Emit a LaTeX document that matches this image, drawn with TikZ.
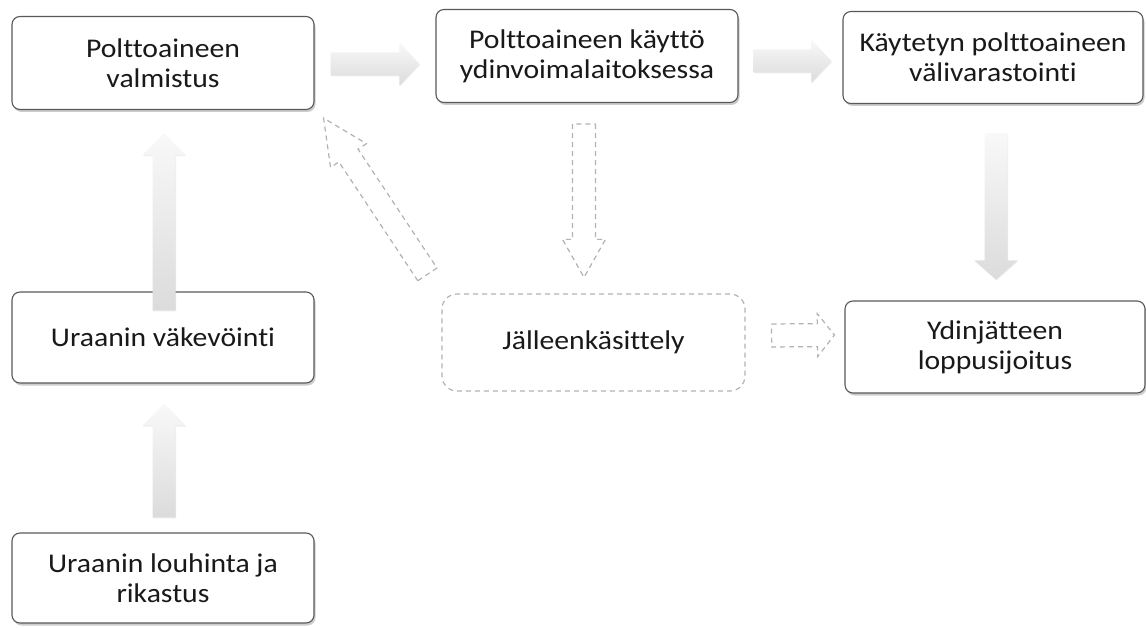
\documentclass[tikz,border=0pt]{standalone}
\usepackage{fontspec}
\setmainfont{Carlito}[FakeStretch=1.1, RawFeature={-liga;-clig;-calt;-dlig}]
\usetikzlibrary{calc}
\usetikzlibrary{shadows}

% block arrow: [style]{tail}{tip}{head length}
\newcommand{\blockarr}[4][]{%
  \path[#1] let \p1=(#2), \p2=(#3), \n1={atan2(\y2-\y1,\x2-\x1)}, \n2={veclen(\x2-\x1,\y2-\y1)} in
    [shift={(\p1)}, rotate=\n1] (0,11.5) -- (\n2-#4,11.5) -- (\n2-#4,21.5) -- (\n2,0)
    -- (\n2-#4,-21.5) -- (\n2-#4,-11.5) -- (0,-11.5) -- cycle;
}

\begin{document}
\begin{tikzpicture}[x=1pt, y=1pt,
    every node/.style={font=\fontsize{27}{30}\selectfont, text=black!90},
    box/.style={draw=gray!70!black, line width=1.1pt, rounded corners=8pt, fill=white, align=center,
        minimum width=302pt, minimum height=93pt, inner sep=0pt,
        drop shadow={shadow xshift=1.5pt, shadow yshift=-2.5pt, opacity=0.4}},
    dashbox/.style={draw=gray!60, line width=1.2pt, dash pattern=on 5pt off 4pt, rounded corners=15pt,
        align=center, minimum width=303pt, minimum height=97pt, inner sep=0pt},
    solidarr/.style={top color=gray!5, bottom color=gray!28,
        drop shadow={shadow xshift=0.5pt, shadow yshift=-1pt, opacity=0.15}},
    dasharr/.style={draw=gray!60, line width=1.2pt, dash pattern=on 5pt off 4pt, fill=white}]
    \useasboundingbox (0,0) rectangle (1146,-628);

    \node[box] (valm) at (163,-63) {Polttoaineen\\valmistus};
    \node[box] (kaytto) at (587,-56) {Polttoaineen käyttö\\ydinvoimalaitoksessa};
    \node[box, minimum width=300pt, minimum height=92pt] (vali) at (993,-57.5) {Käytetyn polttoaineen\\välivarastointi};
    \node[dashbox] (jalleen) at (593.5,-342.5) {Jälleenkäsittely};
    \node[box, minimum width=300pt, minimum height=92pt] (ydin) at (995,-347) {Ydinjätteen\\loppusijoitus};
    \node[box, minimum height=91pt] (vakev) at (163,-337.5) {Uraanin väkevöinti};
    \node[box, minimum height=90pt] (louh) at (163,-578) {Uraanin louhinta ja\\rikastus};

    \blockarr[solidarr]{$(valm.east)+(16,-1)$}{$(kaytto.west)+(-16,-8)$}{20}
    \blockarr[solidarr]{$(kaytto.east)+(15,-5)$}{$(vali.west)+(-11,-3.5)$}{20}
    \blockarr[solidarr]{$(vali.south)+(3,-29)$}{$(ydin.north)+(1,21)$}{19}
    \blockarr[solidarr]{$(vakev.north)+(1,-19)$}{$(valm.south)+(1,-23)$}{22}
    \blockarr[solidarr]{$(louh.north)+(1,15)$}{$(vakev.south)+(1,-20)$}{22}

    \blockarr[dasharr]{$(kaytto.south)+(-3,-21)$}{$(jalleen.north)+(-9.5,16)$}{38}
    \blockarr[dasharr]{$(jalleen.east)+(26,7)$}{$(ydin.west)+(-10,12)$}{17}
    \blockarr[dasharr]{$(jalleen.north west)+(-14,19)$}{$(valm.south east)+(9,-8)$}{45}
\end{tikzpicture}
\end{document}
